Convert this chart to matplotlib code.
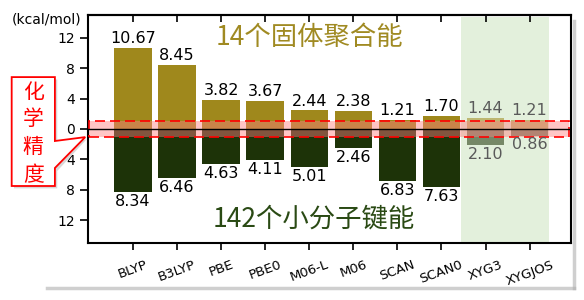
import numpy as np
import matplotlib
matplotlib.use('Agg')
import matplotlib.pyplot as plt
from matplotlib.patches import Rectangle, Polygon

plt.rcParams['font.family'] = ['DejaVu Sans', 'Noto Sans CJK SC']

# --- Data ---
methods = ['BLYP', 'B3LYP', 'PBE', 'PBE0', 'M06-L', 'M06', 'SCAN', 'SCAN0', 'XYG3', 'XYGJOS']
cohesive = [10.67, 8.45, 3.82, 3.67, 2.44, 2.38, 1.21, 1.70, 1.44, 1.21]   # 14 solids
bond = [8.34, 6.46, 4.63, 4.11, 5.01, 2.46, 6.83, 7.63, 2.10, 0.86]        # 142 molecules
highlight = ['XYG3', 'XYGJOS']

TOP_COLOR = '#9f881c'
BOT_COLOR = '#1d3308'
CJK = ['Noto Sans CJK SC', 'DejaVu Sans']

fig = plt.figure(figsize=(5.84, 3.0), dpi=100)
ax = fig.add_axes([0.1507, 0.19, 0.977 - 0.1507, 0.95 - 0.19])

x = np.arange(len(methods))
for i, m in enumerate(methods):
    hl = m in highlight
    a = 0.55 if hl else 1.0
    tcol = '#5a5a5a' if hl else 'black'
    ax.bar(x[i], cohesive[i], width=0.85, color=TOP_COLOR, alpha=a, zorder=2)
    ax.bar(x[i], -bond[i], width=0.85, color=BOT_COLOR, alpha=a, zorder=2)
    ax.text(x[i], cohesive[i] + 0.25, f'{cohesive[i]:.2f}', ha='center', va='bottom',
            fontsize=11.5, color=tcol, zorder=5)
    ax.text(x[i], -bond[i] - 0.25, f'{bond[i]:.2f}', ha='center', va='top',
            fontsize=11.5, color=tcol, zorder=5)

# highlight shade for XYG3 / XYGJOS
ax.axvspan(7.45, 9.45, ymax=0.99, color='#e3f0dc', zorder=0, lw=0)

# chemical accuracy band (+-1 kcal/mol)
band = Rectangle((-1.0, -1.0), 10.9, 2.0, facecolor='#ff8080', alpha=0.45,
                 edgecolor='none', zorder=3)
ax.add_patch(band)
ax.add_patch(Rectangle((-1.0, -1.0), 10.9, 2.0, facecolor='none', edgecolor='red',
                       ls=(0, (6, 3)), lw=1.2, zorder=4))
ax.axhline(0, color='black', lw=1.0, zorder=4)

ax.text(4.0, 12.0, '14个固体聚合能', ha='center', va='center', fontsize=19,
        color='#a08a22', family=CJK, zorder=5)
ax.text(4.1, -11.9, '142个小分子键能', ha='center', va='center', fontsize=19,
        color='#2a4a14', family=CJK, zorder=5)

ax.set_xlim(-1.02, 9.93)
ax.set_ylim(-15, 15)
yt = [-12, -8, -4, 0, 4, 8, 12]
ax.set_yticks(yt)
ax.set_yticklabels([str(abs(v)) for v in yt], fontsize=10)
ax.set_xticks(x)
ax.set_xticklabels(methods, rotation=20, ha='center', fontsize=9.5)
ax.tick_params(axis='y', direction='out', length=6, width=1.2)
ax.tick_params(axis='x', direction='out', length=5, width=1.2, pad=6)
top = ax.secondary_xaxis('top')
top.set_xticks(x)
top.set_xticklabels([])
top.tick_params(direction='in', length=5, width=1.2)
for s in ax.spines.values():
    s.set_linewidth(1.5)
top.spines['top'].set_linewidth(1.5)

fig.text(0.02, 0.935, '(kcal/mol)', fontsize=10, ha='left', va='center')

# callout box "化学精度"
shadow = Polygon([(0.024, 0.372), (0.098, 0.372), (0.098, 0.43), (0.148, 0.535),
                  (0.098, 0.522), (0.098, 0.735), (0.024, 0.735)], closed=True,
                 transform=fig.transFigure, facecolor='#d8d8d8', edgecolor='none', zorder=0)
fig.patches.append(shadow)
callout = Polygon([(0.02, 0.38), (0.094, 0.38), (0.094, 0.44), (0.146, 0.543),
                   (0.094, 0.53), (0.094, 0.743), (0.02, 0.743)], closed=True,
                  transform=fig.transFigure, facecolor='white', edgecolor='red', lw=1.3,
                  zorder=1)
fig.patches.append(callout)
for k, ch in enumerate('化学精度'):
    fig.text(0.057, 0.695 - k * 0.093, ch, fontsize=15, color='red', ha='center',
             va='center', family=CJK)

# faint frame shadow along bottom and right
fig.add_artist(plt.Line2D([0.08, 0.983], [0.04, 0.04], transform=fig.transFigure,
                          color='#b0b0b0', lw=2.5, alpha=0.6))
fig.add_artist(plt.Line2D([0.983, 0.983], [0.04, 0.93], transform=fig.transFigure,
                          color='#b0b0b0', lw=2.5, alpha=0.6))

fig.savefig('out.png', dpi=100)
